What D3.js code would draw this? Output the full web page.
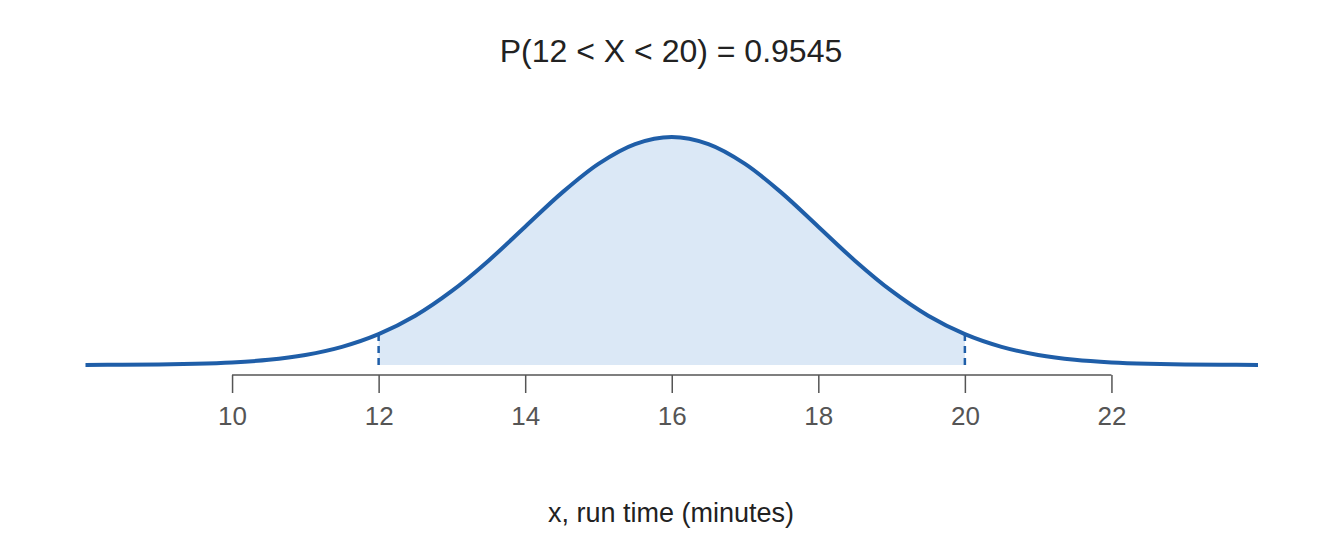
<!DOCTYPE html>
<html>
<head>
<meta charset="utf-8">
<script src="https://cdn.jsdelivr.net/npm/d3@7"></script>
<style>
  body { margin: 0; background: #fff; }
  text { font-family: Arial, "Liberation Sans", sans-serif; }
</style>
</head>
<body>
<svg id="chart" width="1344" height="537"></svg>
<script>
// density of run time at half-minute steps
var xs = [8, 8.5, 9, 9.5, 10, 10.5, 11, 11.5, 12, 12.5, 13, 13.5, 14, 14.5, 15, 15.5, 16,
          16.5, 17, 17.5, 18, 18.5, 19, 19.5, 20, 20.5, 21, 21.5, 22, 22.5, 23, 23.5, 24];
var ys = [0.0001, 0.0002, 0.0004, 0.0010, 0.0022, 0.0045, 0.0088, 0.0159, 0.0270, 0.0431,
          0.0648, 0.0913, 0.1210, 0.1506, 0.1760, 0.1933, 0.1995, 0.1933, 0.1760, 0.1506,
          0.1210, 0.0913, 0.0648, 0.0431, 0.0270, 0.0159, 0.0088, 0.0045, 0.0022, 0.0010,
          0.0004, 0.0002, 0.0001];
var tickValues = [10, 12, 14, 16, 18, 20, 22];
var lower = 12, upper = 20;
var titleText = "P(12 < X < 20) = 0.9545";
var xLabel = "x, run time (minutes)";

var blue = "#1f5ea8";
var svg = d3.select("#chart");
var data = xs.map(function(d, i) { return {x: d, y: ys[i]}; });

var x = d3.scaleLinear().domain([8, 24]).range([85.5, 1258]);
var y = d3.scaleLinear().domain([0, 0.1995]).range([365, 137]);

var area = d3.area().curve(d3.curveCatmullRom)
  .x(function(d) { return x(d.x); })
  .y0(y(0))
  .y1(function(d) { return y(d.y); });
var line = d3.line().curve(d3.curveCatmullRom)
  .x(function(d) { return x(d.x); })
  .y(function(d) { return y(d.y); });

svg.append("path")
  .datum(data.filter(function(d) { return d.x >= lower && d.x <= upper; }))
  .attr("d", area)
  .attr("fill", "#dbe8f6");

[lower, upper].forEach(function(v) {
  var d = data.find(function(p) { return p.x === v; });
  svg.append("line")
    .attr("x1", x(v)).attr("x2", x(v))
    .attr("y1", y(0)).attr("y2", y(d.y))
    .attr("stroke", blue).attr("stroke-width", 2.5)
    .attr("stroke-dasharray", "7,5");
});

svg.append("path")
  .datum(data)
  .attr("d", line)
  .attr("fill", "none")
  .attr("stroke", blue)
  .attr("stroke-width", 4);

// axis
var xAxis = d3.axisBottom(x).tickValues(tickValues).tickSize(18).tickPadding(14);
var g = svg.append("g").attr("transform", "translate(0,375)").call(xAxis);
g.select(".domain").attr("d", "M" + x(10) + ",0H" + x(22)).attr("stroke", "#555").attr("stroke-width", 1.5);
g.selectAll(".tick line").attr("stroke", "#555").attr("stroke-width", 1.5);
g.selectAll(".tick text").attr("font-size", 26).attr("fill", "#555")
  .attr("font-family", "Arial, 'Liberation Sans', sans-serif");

svg.append("text")
  .attr("x", 671).attr("y", 62)
  .attr("text-anchor", "middle")
  .attr("font-size", 32).attr("fill", "#222")
  .text(titleText);

svg.append("text")
  .attr("x", 671).attr("y", 522)
  .attr("text-anchor", "middle")
  .attr("font-size", 27).attr("fill", "#222")
  .text(xLabel);
</script>
</body>
</html>
